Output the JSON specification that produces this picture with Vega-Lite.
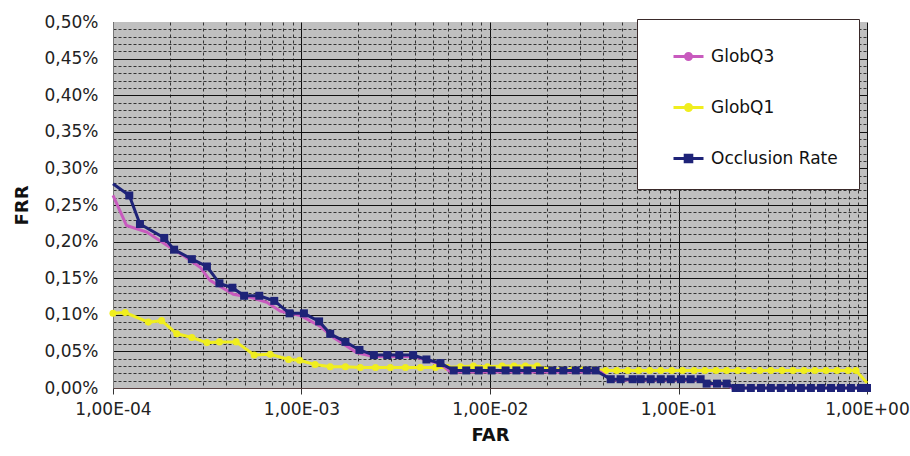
{
  "$schema": "https://vega.github.io/schema/vega-lite/v6.json",
  "autosize": {"type": "none"},
  "padding": {"left": 113, "top": 22, "right": 43, "bottom": 68},
  "width": 754,
  "height": 366,
  "background": "white",
  "config": {
    "view": {"fill": "#c0c0c0", "stroke": null},
    "font": "DejaVu Sans"
  },
  "data": {
    "values": [
      {"s": "Occlusion Rate", "far": 0.0001, "frr": 0.00279},
      {"s": "Occlusion Rate", "far": 0.000122, "frr": 0.00263},
      {"s": "Occlusion Rate", "far": 0.000139, "frr": 0.00224},
      {"s": "Occlusion Rate", "far": 0.000187, "frr": 0.00205},
      {"s": "Occlusion Rate", "far": 0.000211, "frr": 0.00189},
      {"s": "Occlusion Rate", "far": 0.000262, "frr": 0.00176},
      {"s": "Occlusion Rate", "far": 0.000315, "frr": 0.00166},
      {"s": "Occlusion Rate", "far": 0.000367, "frr": 0.00143},
      {"s": "Occlusion Rate", "far": 0.00043, "frr": 0.00137},
      {"s": "Occlusion Rate", "far": 0.000496, "frr": 0.00126},
      {"s": "Occlusion Rate", "far": 0.000597, "frr": 0.00126},
      {"s": "Occlusion Rate", "far": 0.000717, "frr": 0.00119},
      {"s": "Occlusion Rate", "far": 0.000864, "frr": 0.00102},
      {"s": "Occlusion Rate", "far": 0.00103, "frr": 0.00102},
      {"s": "Occlusion Rate", "far": 0.00124, "frr": 0.00091},
      {"s": "Occlusion Rate", "far": 0.00142, "frr": 0.00074},
      {"s": "Occlusion Rate", "far": 0.00171, "frr": 0.00063},
      {"s": "Occlusion Rate", "far": 0.00203, "frr": 0.00052},
      {"s": "Occlusion Rate", "far": 0.00242, "frr": 0.00045},
      {"s": "Occlusion Rate", "far": 0.00285, "frr": 0.00045},
      {"s": "Occlusion Rate", "far": 0.0033, "frr": 0.00045},
      {"s": "Occlusion Rate", "far": 0.00391, "frr": 0.00045},
      {"s": "Occlusion Rate", "far": 0.0046, "frr": 0.00039},
      {"s": "Occlusion Rate", "far": 0.00546, "frr": 0.00034},
      {"s": "Occlusion Rate", "far": 0.00642, "frr": 0.00024},
      {"s": "Occlusion Rate", "far": 0.00748, "frr": 0.00024},
      {"s": "Occlusion Rate", "far": 0.00872, "frr": 0.00024},
      {"s": "Occlusion Rate", "far": 0.0102, "frr": 0.00024},
      {"s": "Occlusion Rate", "far": 0.0121, "frr": 0.00024},
      {"s": "Occlusion Rate", "far": 0.0138, "frr": 0.00024},
      {"s": "Occlusion Rate", "far": 0.0158, "frr": 0.00024},
      {"s": "Occlusion Rate", "far": 0.0184, "frr": 0.00024},
      {"s": "Occlusion Rate", "far": 0.0214, "frr": 0.00024},
      {"s": "Occlusion Rate", "far": 0.0245, "frr": 0.00024},
      {"s": "Occlusion Rate", "far": 0.0285, "frr": 0.00024},
      {"s": "Occlusion Rate", "far": 0.0326, "frr": 0.00024},
      {"s": "Occlusion Rate", "far": 0.0363, "frr": 0.00024},
      {"s": "Occlusion Rate", "far": 0.0437, "frr": 0.00012},
      {"s": "Occlusion Rate", "far": 0.0493, "frr": 0.00012},
      {"s": "Occlusion Rate", "far": 0.0571, "frr": 0.00012},
      {"s": "Occlusion Rate", "far": 0.063, "frr": 0.00012},
      {"s": "Occlusion Rate", "far": 0.0712, "frr": 0.00012},
      {"s": "Occlusion Rate", "far": 0.0805, "frr": 0.00012},
      {"s": "Occlusion Rate", "far": 0.091, "frr": 0.00012},
      {"s": "Occlusion Rate", "far": 0.103, "frr": 0.00012},
      {"s": "Occlusion Rate", "far": 0.116, "frr": 0.00012},
      {"s": "Occlusion Rate", "far": 0.131, "frr": 0.00012},
      {"s": "Occlusion Rate", "far": 0.141, "frr": 0.00006},
      {"s": "Occlusion Rate", "far": 0.16, "frr": 0.00006},
      {"s": "Occlusion Rate", "far": 0.18, "frr": 0.00006},
      {"s": "Occlusion Rate", "far": 0.201, "frr": 0},
      {"s": "Occlusion Rate", "far": 0.214, "frr": 0},
      {"s": "Occlusion Rate", "far": 0.242, "frr": 0},
      {"s": "Occlusion Rate", "far": 0.274, "frr": 0},
      {"s": "Occlusion Rate", "far": 0.309, "frr": 0},
      {"s": "Occlusion Rate", "far": 0.349, "frr": 0},
      {"s": "Occlusion Rate", "far": 0.395, "frr": 0},
      {"s": "Occlusion Rate", "far": 0.446, "frr": 0},
      {"s": "Occlusion Rate", "far": 0.504, "frr": 0},
      {"s": "Occlusion Rate", "far": 0.57, "frr": 0},
      {"s": "Occlusion Rate", "far": 0.644, "frr": 0},
      {"s": "Occlusion Rate", "far": 0.728, "frr": 0},
      {"s": "Occlusion Rate", "far": 0.822, "frr": 0},
      {"s": "Occlusion Rate", "far": 0.929, "frr": 0},
      {"s": "Occlusion Rate", "far": 1.0, "frr": 0},

      {"s": "GlobQ1", "far": 0.0001, "frr": 0.00102},
      {"s": "GlobQ1", "far": 0.000116, "frr": 0.00103},
      {"s": "GlobQ1", "far": 0.000154, "frr": 0.0009},
      {"s": "GlobQ1", "far": 0.000181, "frr": 0.00092},
      {"s": "GlobQ1", "far": 0.000218, "frr": 0.00074},
      {"s": "GlobQ1", "far": 0.000262, "frr": 0.00069},
      {"s": "GlobQ1", "far": 0.000315, "frr": 0.00062},
      {"s": "GlobQ1", "far": 0.000367, "frr": 0.00063},
      {"s": "GlobQ1", "far": 0.00045, "frr": 0.00063},
      {"s": "GlobQ1", "far": 0.000561, "frr": 0.00045},
      {"s": "GlobQ1", "far": 0.000682, "frr": 0.00046},
      {"s": "GlobQ1", "far": 0.000854, "frr": 0.00039},
      {"s": "GlobQ1", "far": 0.000977, "frr": 0.00038},
      {"s": "GlobQ1", "far": 0.00118, "frr": 0.00032},
      {"s": "GlobQ1", "far": 0.00142, "frr": 0.00029},
      {"s": "GlobQ1", "far": 0.00171, "frr": 0.00029},
      {"s": "GlobQ1", "far": 0.00205, "frr": 0.00028},
      {"s": "GlobQ1", "far": 0.00247, "frr": 0.00028},
      {"s": "GlobQ1", "far": 0.00296, "frr": 0.00028},
      {"s": "GlobQ1", "far": 0.00356, "frr": 0.00028},
      {"s": "GlobQ1", "far": 0.00427, "frr": 0.00028},
      {"s": "GlobQ1", "far": 0.00513, "frr": 0.00028},
      {"s": "GlobQ1", "far": 0.00594, "frr": 0.00028},
      {"s": "GlobQ1", "far": 0.00697, "frr": 0.00029},
      {"s": "GlobQ1", "far": 0.00817, "frr": 0.0003},
      {"s": "GlobQ1", "far": 0.0097, "frr": 0.00029},
      {"s": "GlobQ1", "far": 0.0116, "frr": 0.0003},
      {"s": "GlobQ1", "far": 0.0134, "frr": 0.0003},
      {"s": "GlobQ1", "far": 0.0154, "frr": 0.0003},
      {"s": "GlobQ1", "far": 0.0178, "frr": 0.0003},
      {"s": "GlobQ1", "far": 0.021, "frr": 0.00025},
      {"s": "GlobQ1", "far": 0.024, "frr": 0.00025},
      {"s": "GlobQ1", "far": 0.0274, "frr": 0.00025},
      {"s": "GlobQ1", "far": 0.0314, "frr": 0.00025},
      {"s": "GlobQ1", "far": 0.0359, "frr": 0.00025},
      {"s": "GlobQ1", "far": 0.0411, "frr": 0.00024},
      {"s": "GlobQ1", "far": 0.047, "frr": 0.00024},
      {"s": "GlobQ1", "far": 0.0538, "frr": 0.00024},
      {"s": "GlobQ1", "far": 0.0615, "frr": 0.00024},
      {"s": "GlobQ1", "far": 0.0704, "frr": 0.00024},
      {"s": "GlobQ1", "far": 0.0805, "frr": 0.00024},
      {"s": "GlobQ1", "far": 0.0921, "frr": 0.00024},
      {"s": "GlobQ1", "far": 0.105, "frr": 0.00024},
      {"s": "GlobQ1", "far": 0.121, "frr": 0.00024},
      {"s": "GlobQ1", "far": 0.138, "frr": 0.00024},
      {"s": "GlobQ1", "far": 0.158, "frr": 0.00024},
      {"s": "GlobQ1", "far": 0.18, "frr": 0.00024},
      {"s": "GlobQ1", "far": 0.206, "frr": 0.00024},
      {"s": "GlobQ1", "far": 0.236, "frr": 0.00024},
      {"s": "GlobQ1", "far": 0.27, "frr": 0.00024},
      {"s": "GlobQ1", "far": 0.309, "frr": 0.00024},
      {"s": "GlobQ1", "far": 0.354, "frr": 0.00024},
      {"s": "GlobQ1", "far": 0.405, "frr": 0.00024},
      {"s": "GlobQ1", "far": 0.463, "frr": 0.00024},
      {"s": "GlobQ1", "far": 0.529, "frr": 0.00024},
      {"s": "GlobQ1", "far": 0.606, "frr": 0.00024},
      {"s": "GlobQ1", "far": 0.693, "frr": 0.00024},
      {"s": "GlobQ1", "far": 0.793, "frr": 0.00024},
      {"s": "GlobQ1", "far": 0.874, "frr": 0.00024},
      {"s": "GlobQ1", "far": 1.0, "frr": 0.00007},

      {"s": "GlobQ3", "far": 0.0001, "frr": 0.00263},
      {"s": "GlobQ3", "far": 0.000118, "frr": 0.00222},
      {"s": "GlobQ3", "far": 0.000151, "frr": 0.00213},
      {"s": "GlobQ3", "far": 0.000193, "frr": 0.00195},
      {"s": "GlobQ3", "far": 0.000236, "frr": 0.00181},
      {"s": "GlobQ3", "far": 0.00029, "frr": 0.00165},
      {"s": "GlobQ3", "far": 0.000327, "frr": 0.00147},
      {"s": "GlobQ3", "far": 0.000435, "frr": 0.00128},
      {"s": "GlobQ3", "far": 0.000535, "frr": 0.00124},
      {"s": "GlobQ3", "far": 0.000655, "frr": 0.00117},
      {"s": "GlobQ3", "far": 0.000771, "frr": 0.00105},
      {"s": "GlobQ3", "far": 0.000985, "frr": 0.00099},
      {"s": "GlobQ3", "far": 0.00126, "frr": 0.00084},
      {"s": "GlobQ3", "far": 0.00148, "frr": 0.00069},
      {"s": "GlobQ3", "far": 0.00197, "frr": 0.00048},
      {"s": "GlobQ3", "far": 0.00242, "frr": 0.00043},
      {"s": "GlobQ3", "far": 0.00394, "frr": 0.00043},
      {"s": "GlobQ3", "far": 0.00546, "frr": 0.00033},
      {"s": "GlobQ3", "far": 0.00617, "frr": 0.00022},
      {"s": "GlobQ3", "far": 0.0386, "frr": 0.00022},
      {"s": "GlobQ3", "far": 0.0437, "frr": 0.00011},
      {"s": "GlobQ3", "far": 0.135, "frr": 0.00011},
      {"s": "GlobQ3", "far": 0.141, "frr": 0.00005},
      {"s": "GlobQ3", "far": 0.18, "frr": 0.00005},
      {"s": "GlobQ3", "far": 0.192, "frr": 0},
      {"s": "GlobQ3", "far": 1.0, "frr": 0}
    ]
  },
  "encoding": {
    "x": {
      "field": "far", "type": "quantitative",
      "scale": {"type": "log", "domain": [0.0001, 1], "nice": false},
      "title": "FAR",
      "axis": {
        "values": [0.0001,0.0002,0.0003,0.0004,0.0005,0.0006,0.0007,0.0008,0.0009,0.001,0.002,0.003,0.004,0.005,0.006,0.007,0.008,0.009,0.01,0.02,0.03,0.04,0.05,0.06,0.07,0.08,0.09,0.1,0.2,0.3,0.4,0.5,0.6,0.7,0.8,0.9,1],
        "labelExpr": "abs(log(datum.value)/LN10 - round(log(datum.value)/LN10)) < 1e-6 ? ('1,00E' + (round(log(datum.value)/LN10) < 0 ? '-0' + (-round(log(datum.value)/LN10)) : '+00')) : ''",
        "labelOverlap": false,
        "labelFont": "DejaVu Sans", "labelFontSize": 17, "labelColor": "#222",
        "labelPadding": 7,
        "labelFlush": false,
        "grid": true,
        "gridColor": {"condition": {"test": "abs(log(datum.value)/LN10 - round(log(datum.value)/LN10)) < 1e-6", "value": "#111"}, "value": "#333"},
        "gridDash": {"condition": {"test": "abs(log(datum.value)/LN10 - round(log(datum.value)/LN10)) < 1e-6", "value": []}, "value": [3, 3]},
        "gridWidth": 1,
        "tickSize": 6,
        "tickColor": "#333",
        "tickOpacity": {"condition": {"test": "abs(log(datum.value)/LN10 - round(log(datum.value)/LN10)) < 1e-6", "value": 1}, "value": 0},
        "domainColor": "#5a4040",
        "titleFont": "DejaVu Sans", "titleFontSize": 18, "titleFontWeight": "bold", "titleColor": "#111",
        "titlePadding": 9
      }
    },
    "y": {
      "field": "frr", "type": "quantitative",
      "scale": {"domain": [0, 0.005], "nice": false, "zero": true},
      "title": "FRR",
      "axis": {
        "values": [0,0.0001,0.0002,0.0003,0.0004,0.0005,0.0006,0.0007,0.0008,0.0009,0.001,0.0011,0.0012,0.0013,0.0014,0.0015,0.0016,0.0017,0.0018,0.0019,0.002,0.0021,0.0022,0.0023,0.0024,0.0025,0.0026,0.0027,0.0028,0.0029,0.003,0.0031,0.0032,0.0033,0.0034,0.0035,0.0036,0.0037,0.0038,0.0039,0.004,0.0041,0.0042,0.0043,0.0044,0.0045,0.0046,0.0047,0.0048,0.0049,0.005],
        "labelExpr": "abs(datum.value*2000 - round(datum.value*2000)) < 1e-6 ? replace(format(datum.value, '.2%'), '.', ',') : ''",
        "labelOverlap": false,
        "labelFont": "DejaVu Sans", "labelFontSize": 17, "labelColor": "#222",
        "labelPadding": 15,
        "labelFlush": false,
        "ticks": false,
        "grid": true,
        "gridColor": {"condition": {"test": "abs(datum.value*2000 - round(datum.value*2000)) < 1e-6", "value": "#111"}, "value": "#333"},
        "gridDash": {"condition": {"test": "abs(datum.value*2000 - round(datum.value*2000)) < 1e-6", "value": []}, "value": [3, 2]},
        "gridOpacity": {"condition": {"test": "datum.value > 0.00499", "value": 0}, "value": 1},
        "gridWidth": 1,
        "domainColor": "#777",
        "titleFont": "DejaVu Sans", "titleFontSize": 18, "titleFontWeight": "bold", "titleColor": "#111",
        "titlePadding": 12
      }
    }
  },
  "layer": [
    {
      "transform": [{"filter": "datum.s === 'GlobQ1'"}],
      "mark": {"type": "line", "strokeWidth": 3},
      "encoding": {
        "color": {
          "field": "s", "type": "nominal",
          "scale": {"domain": ["GlobQ3", "GlobQ1", "Occlusion Rate"], "range": ["#c85abe", "#f0ee1e", "#1e2378"]},
          "legend": {
            "orient": "none", "legendX": 524, "legendY": -3,
            "title": null,
            "fillColor": "white", "strokeColor": "#3a2a2a",
            "padding": 21,
            "symbolOffset": 14,
            "symbolSize": 900,
            "symbolStrokeWidth": 3,
            "rowPadding": 25,
            "labelOffset": 6,
            "labelLimit": 300,
            "labelFont": "DejaVu Sans", "labelFontSize": 17, "labelColor": "#111",
            "encode": {
              "symbols": {
                "update": {
                  "shape": {"signal": "datum.value === 'Occlusion Rate' ? 'M-1,0H1M-0.22,-0.22H0.22V0.22H-0.22Z' : 'M-1,0H1M-0.2,0A0.2,0.2 0 1,0 0.2,0A0.2,0.2 0 1,0 -0.2,0Z'"},
                  "fill": {"signal": "scale('color', datum.value)"},
                  "stroke": {"signal": "scale('color', datum.value)"},
                  "strokeWidth": {"value": 3},
                  "opacity": {"value": 1}
                }
              }
            }
          }
        }
      }
    },
    {
      "transform": [{"filter": "datum.s === 'GlobQ1' && datum.far < 0.99"}],
      "mark": {"type": "point", "shape": "circle", "filled": true, "size": 50, "color": "#f0ee1e", "opacity": 1}
    },
    {
      "transform": [{"filter": "datum.s === 'GlobQ3'"}],
      "mark": {"type": "line", "strokeWidth": 3},
      "encoding": {"color": {"field": "s", "type": "nominal"}}
    },
    {
      "transform": [{"filter": "datum.s === 'Occlusion Rate'"}],
      "mark": {"type": "line", "strokeWidth": 3},
      "encoding": {"color": {"field": "s", "type": "nominal"}}
    },
    {
      "transform": [{"filter": "datum.s === 'Occlusion Rate' && datum.far > 0.0001"}],
      "mark": {"type": "point", "shape": "square", "filled": true, "size": 64, "color": "#1e2378", "opacity": 1}
    }
  ]
}
